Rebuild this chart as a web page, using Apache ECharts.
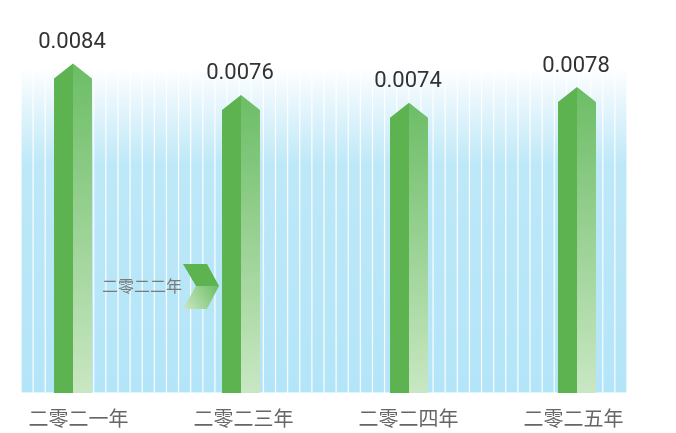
<!DOCTYPE html>
<html>
<head>
<meta charset="utf-8">
<script src="https://cdn.jsdelivr.net/npm/echarts@6/dist/echarts.min.js"></script>
<style>
html,body{margin:0;padding:0;background:#fff;}
#main{width:676px;height:433px;}
</style>
</head>
<body>
<div id="main"></div>
<script>
// ---- data ----
const categories = ['二零二一年', '二零二三年', '二零二四年', '二零二五年'];
const values = [0.0084, 0.0076, 0.0074, 0.0078];
const noteLabel = '二零二二年';
const bgStripeCount = 50;
const bgLevel = 0.0083;
const yMax = 0.009;

const bgCats = [];
const bgVals = [];
for (let i = 0; i < bgStripeCount; i++) { bgCats.push(String(i)); bgVals.push(bgLevel); }

const chart = echarts.init(document.getElementById('main'));

const rightFace = new echarts.graphic.LinearGradient(0, 0, 0, 1, [
  { offset: 0, color: '#6cbd66' },
  { offset: 1, color: '#c9e7c3' }
]);

const option = {
  animation: false,
  backgroundColor: '#ffffff',
  grid: [
    { left: 21, right: 49, top: 40, bottom: 40, outerBoundsMode: 'none' },
    { left: -11, right: 15, top: 40, bottom: 40, outerBoundsMode: 'none' },
    { left: -4, right: 20, top: 40, bottom: 40, outerBoundsMode: 'none' }
  ],
  xAxis: [
    { type: 'category', gridIndex: 0, data: bgCats, show: false, boundaryGap: true },
    { type: 'category', gridIndex: 1, data: categories, show: false },
    { type: 'category', gridIndex: 2, data: categories,
      axisLine: { show: false }, axisTick: { show: false },
      axisLabel: { margin: 15, fontSize: 20, color: '#666', fontFamily: 'Noto Sans CJK SC' } }
  ],
  yAxis: [
    { type: 'value', gridIndex: 0, min: 0, max: yMax, show: false },
    { type: 'value', gridIndex: 1, min: 0, max: yMax, show: false },
    { type: 'value', gridIndex: 2, min: 0, max: yMax, show: false }
  ],
  series: [
    {
      type: 'bar', xAxisIndex: 0, yAxisIndex: 0, data: bgVals, z: 1,
      barCategoryGap: 0, silent: true,
      itemStyle: {
        color: new echarts.graphic.LinearGradient(0, 0, 0, 1, [
          { offset: 0, color: '#ffffff' },
          { offset: 0.12, color: '#e4f5fc' },
          { offset: 0.3, color: '#bde8f8' },
          { offset: 1, color: '#b3e5f8' }
        ]),
        borderColor: 'rgba(255,255,255,0.17)',
        borderWidth: 1
      }
    },
    {
      type: 'custom', xAxisIndex: 1, yAxisIndex: 1, z: 5,
      data: values.map((v, i) => [i, v]),
      renderItem: function (params, api) {
        const i = api.value(0), v = api.value(1);
        const top = api.coord([i, v]);
        const bot = api.coord([i, 0]);
        const hw = api.size([1, 0])[0] * 0.113;
        const roof = hw * 0.79;
        const cx = top[0];
        return {
          type: 'group',
          children: [
            { type: 'polygon',
              shape: { points: [[cx - hw, bot[1]], [cx - hw, top[1] + roof], [cx, top[1]], [cx, bot[1]]] },
              style: { fill: '#5cb350' } },
            { type: 'polygon',
              shape: { points: [[cx, bot[1]], [cx, top[1]], [cx + hw, top[1] + roof], [cx + hw, bot[1]]] },
              style: { fill: rightFace } },
            { type: 'text',
              style: { text: v.toFixed(4), x: cx - 1, y: top[1] - 21, align: 'center', verticalAlign: 'middle',
                       fontSize: 22, fontFamily: 'Roboto', fill: '#333' } }
          ]
        };
      }
    }
  ],
  graphic: [
    { type: 'polygon', z: 100, shape: { points: [[183, 264], [207, 264], [219, 286], [196, 286]] }, style: { fill: '#5cb350' } },
    { type: 'polygon', z: 100, shape: { points: [[196, 286], [219, 286], [207, 309], [183, 309]] },
      style: { fill: new echarts.graphic.LinearGradient(1, 0, 0, 1, [
        { offset: 0, color: '#6cbd66' }, { offset: 1, color: '#cce8c4' }]) } },
    { type: 'text', z: 100, style: { text: noteLabel, x: 142, y: 286, align: 'center', verticalAlign: 'middle',
      fontSize: 16, fontFamily: 'Noto Sans CJK SC', fill: '#7a7a7a' } }
  ]
};
chart.setOption(option);
</script>
</body>
</html>
